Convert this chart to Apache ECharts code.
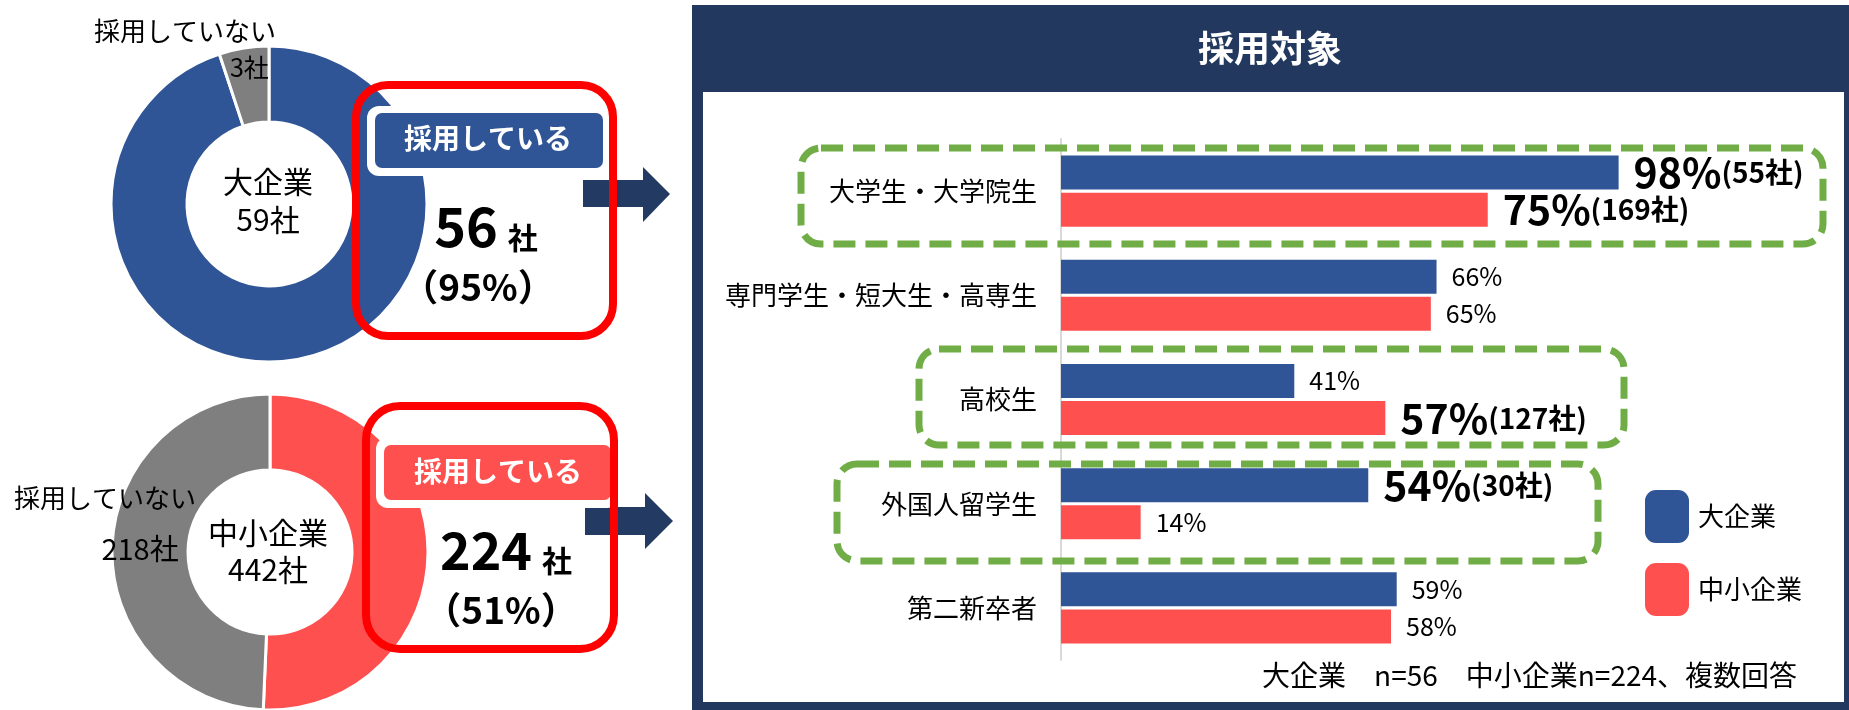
<!DOCTYPE html>
<html>
<head>
<meta charset="utf-8">
<script src="https://cdn.jsdelivr.net/npm/echarts@6/dist/echarts.min.js"></script>
<style>
html,body{margin:0;padding:0;background:#fff;}
#chart{width:1849px;height:710px;}
</style>
</head>
<body>
<div id="chart"></div>
<script>
// ---- data ----
const categories = ['大学生・大学院生', '専門学生・短大生・高専生', '高校生', '外国人留学生', '第二新卒者'];
const groupNames = ['大企業', '中小企業'];
const largeRates = [98, 66, 41, 54, 59];
const smeRates = [75, 65, 57, 14, 58];
const largeCounts = [55, null, null, 30, null];   // highlighted company counts
const smeCounts = [169, null, 127, null, null];
const hiringLabels = ['採用している', '採用していない'];
const largeHiring = [56, 3];
const smeHiring = [224, 218];
const footnote = '大企業　n=56　中小企業n=224、複数回答';
const panelTitle = '採用対象';

// ---- style ----
const FONT = '"Noto Sans CJK JP", "Noto Sans", sans-serif';
const BLUE = '#2F5597';
const RED = '#FF5050';
const GRAY = '#7F7F7F';
const NAVY = '#22385F';
const GREEN = '#70AD47';

const largeTotal = largeHiring[0] + largeHiring[1];
const smeTotal = smeHiring[0] + smeHiring[1];
const largePct = Math.round(largeHiring[0] / largeTotal * 100);
const smePct = Math.round(smeHiring[0] / smeTotal * 100);

const chart = echarts.init(document.getElementById('chart'), null, {renderer: 'canvas'});

function barLabel(counts) {
  return {
    show: true,
    position: 'right',
    distance: 15,
    fontFamily: FONT,
    formatter: p => counts[p.dataIndex] != null
      ? `{b|${p.value}%}{s|(${counts[p.dataIndex]}社)}`
      : `{n|${p.value}%}`,
    rich: {
      n: {fontSize: 25, color: '#000', fontFamily: FONT},
      b: {fontSize: 41, fontWeight: 'bold', color: '#000', fontFamily: FONT},
      s: {fontSize: 28, fontWeight: 'bold', color: '#000', fontFamily: FONT}
    }
  };
}

function txt(x, y, text, opt) {
  return Object.assign({
    type: 'text', x: x, y: y, z: 110, silent: true,
    style: Object.assign({
      text: text, fill: '#000', fontFamily: FONT, fontSize: 26,
      align: 'center', verticalAlign: 'middle'
    }, opt || {})
  });
}

const option = {
  animation: false,
  textStyle: {fontFamily: FONT},
  legend: {
    data: groupNames,
    orient: 'vertical',
    left: 1640,
    top: 485,
    itemWidth: 44,
    itemHeight: 53,
    itemGap: 20,
    icon: 'roundRect',
    selectedMode: false,
    textStyle: {fontSize: 26, color: '#000', fontFamily: FONT, padding: [0, 0, 0, 4]}
  },
  grid: {left: 1061, top: 139, width: 569, height: 521, containLabel: false},
  xAxis: {type: 'value', min: 0, max: 100, show: false},
  yAxis: {
    type: 'category',
    data: categories,
    inverse: true,
    axisLine: {show: true, lineStyle: {color: '#D9D9D9', width: 2}},
    axisTick: {show: false},
    axisLabel: {fontSize: 26, color: '#000', fontFamily: FONT, margin: 24}
  },
  series: [
    {
      type: 'bar', name: groupNames[0], data: largeRates,
      barWidth: 34, barGap: '9%', barCategoryGap: '33%',
      itemStyle: {color: BLUE},
      label: barLabel(largeCounts),
      silent: true
    },
    {
      type: 'bar', name: groupNames[1], data: smeRates,
      barWidth: 34, barGap: '9%', barCategoryGap: '33%',
      itemStyle: {color: RED},
      label: barLabel(smeCounts),
      silent: true
    },
    {
      type: 'pie', center: [269, 204], radius: [82, 158],
      startAngle: 90, clockwise: true, silent: true,
      itemStyle: {borderColor: '#fff', borderWidth: 3},
      label: {show: false}, labelLine: {show: false},
      data: [
        {name: hiringLabels[0], value: largeHiring[0], itemStyle: {color: BLUE}},
        {name: hiringLabels[1], value: largeHiring[1], itemStyle: {color: GRAY},
         label: {show: true, position: 'inside',
                 formatter: p => `{v|${p.value}社}\n{e| }`,
                 rich: {
                   v: {fontSize: 25, color: '#000', fontFamily: FONT, lineHeight: 30},
                   e: {fontSize: 2, lineHeight: 30}
                 }}}
      ]
    },
    {
      type: 'pie', center: [270, 552], radius: [82, 158],
      startAngle: 90, clockwise: true, silent: true,
      itemStyle: {borderColor: '#fff', borderWidth: 3},
      label: {show: false}, labelLine: {show: false},
      data: [
        {name: hiringLabels[0], value: smeHiring[0], itemStyle: {color: RED}},
        {name: hiringLabels[1], value: smeHiring[1], itemStyle: {color: GRAY},
         label: {show: true, position: 'inside',
                 formatter: p => `{v|${p.value}社}{e| }`,
                 rich: {
                   v: {fontSize: 29, color: '#000', fontFamily: FONT},
                   e: {fontSize: 2, width: 14}
                 }}}
      ]
    }
  ],
  graphic: [
    // right panel
    {type: 'rect', z: -10, silent: true, shape: {x: 692, y: 5, width: 1157, height: 705}, style: {fill: NAVY}},
    {type: 'rect', z: -9, silent: true, shape: {x: 703, y: 92, width: 1141, height: 610}, style: {fill: '#fff'}},
    txt(1270, 48, panelTitle, {fill: '#fff', fontSize: 36, fontWeight: 'bold'}),
    // dashed highlight boxes
    {type: 'rect', z: 5, silent: true, shape: {x: 801, y: 148, width: 1022, height: 96, r: 20},
     style: {fill: 'none', stroke: GREEN, lineWidth: 7, lineDash: [22, 10]}},
    {type: 'rect', z: 5, silent: true, shape: {x: 919, y: 349, width: 705, height: 96, r: 20},
     style: {fill: 'none', stroke: GREEN, lineWidth: 7, lineDash: [22, 10]}},
    {type: 'rect', z: 5, silent: true, shape: {x: 837, y: 464, width: 761, height: 97, r: 20},
     style: {fill: 'none', stroke: GREEN, lineWidth: 7, lineDash: [22, 10]}},
    txt(1797, 675, footnote, {fontSize: 28, align: 'right'}),

    // donut texts
    txt(185, 31, hiringLabels[1], {fontSize: 26}),
    txt(105, 498, hiringLabels[1], {fontSize: 26}),
    txt(268, 201, groupNames[0] + '\n' + largeTotal + '社', {fontSize: 30, lineHeight: 38}),
    txt(268, 551, groupNames[1] + '\n' + smeTotal + '社', {fontSize: 30, lineHeight: 37}),

    // top callout
    {type: 'rect', z: 100, silent: true, shape: {x: 367, y: 106, width: 244, height: 70, r: 12}, style: {fill: '#fff'}},
    {type: 'rect', z: 101, silent: true, shape: {x: 375, y: 113, width: 228, height: 55, r: 7}, style: {fill: BLUE}},
    {type: 'rect', z: 102, silent: true, shape: {x: 356, y: 85, width: 257, height: 251, r: 32},
     style: {fill: 'none', stroke: '#FF0000', lineWidth: 8}},
    txt(488, 138, hiringLabels[0], {fill: '#fff', fontSize: 28, fontWeight: 'bold'}),
    txt(486, 226, `{n|${largeHiring[0]}}{u|社}`, {
      rich: {
        n: {fontSize: 54, fontWeight: 'bold', fontFamily: FONT, fill: '#000'},
        u: {fontSize: 30, fontWeight: 'bold', fontFamily: FONT, fill: '#000', padding: [0, 0, 0, 10], verticalAlign: 'bottom'}
      }
    }),
    txt(478, 287, `（${largePct}%）`, {fontSize: 37, fontWeight: 'bold'}),
    {type: 'polygon', z: 50, silent: true,
     shape: {points: [[583, 180], [643, 180], [643, 167], [670, 194], [643, 222], [643, 207], [583, 207]]},
     style: {fill: '#233A63'}},

    // bottom callout
    {type: 'rect', z: 100, silent: true, shape: {x: 376, y: 437, width: 243, height: 71, r: 12}, style: {fill: '#fff'}},
    {type: 'rect', z: 101, silent: true, shape: {x: 384, y: 445, width: 227, height: 55, r: 7}, style: {fill: RED}},
    {type: 'rect', z: 102, silent: true, shape: {x: 366, y: 406, width: 248, height: 243, r: 34},
     style: {fill: 'none', stroke: '#FF0000', lineWidth: 8}},
    txt(498, 471, hiringLabels[0], {fill: '#fff', fontSize: 28, fontWeight: 'bold'}),
    txt(506, 550, `{n|${smeHiring[0]}}{u|社}`, {
      rich: {
        n: {fontSize: 52, fontWeight: 'bold', fontFamily: FONT, fill: '#000'},
        u: {fontSize: 30, fontWeight: 'bold', fontFamily: FONT, fill: '#000', padding: [0, 0, 0, 10], verticalAlign: 'bottom'}
      }
    }),
    txt(501, 610, `（${smePct}%）`, {fontSize: 37, fontWeight: 'bold'}),
    {type: 'polygon', z: 50, silent: true,
     shape: {points: [[585, 507], [645, 507], [645, 493], [673, 521], [645, 549], [645, 535], [585, 535]]},
     style: {fill: '#233A63'}}
  ]
};
chart.setOption(option);
</script>
</body>
</html>
